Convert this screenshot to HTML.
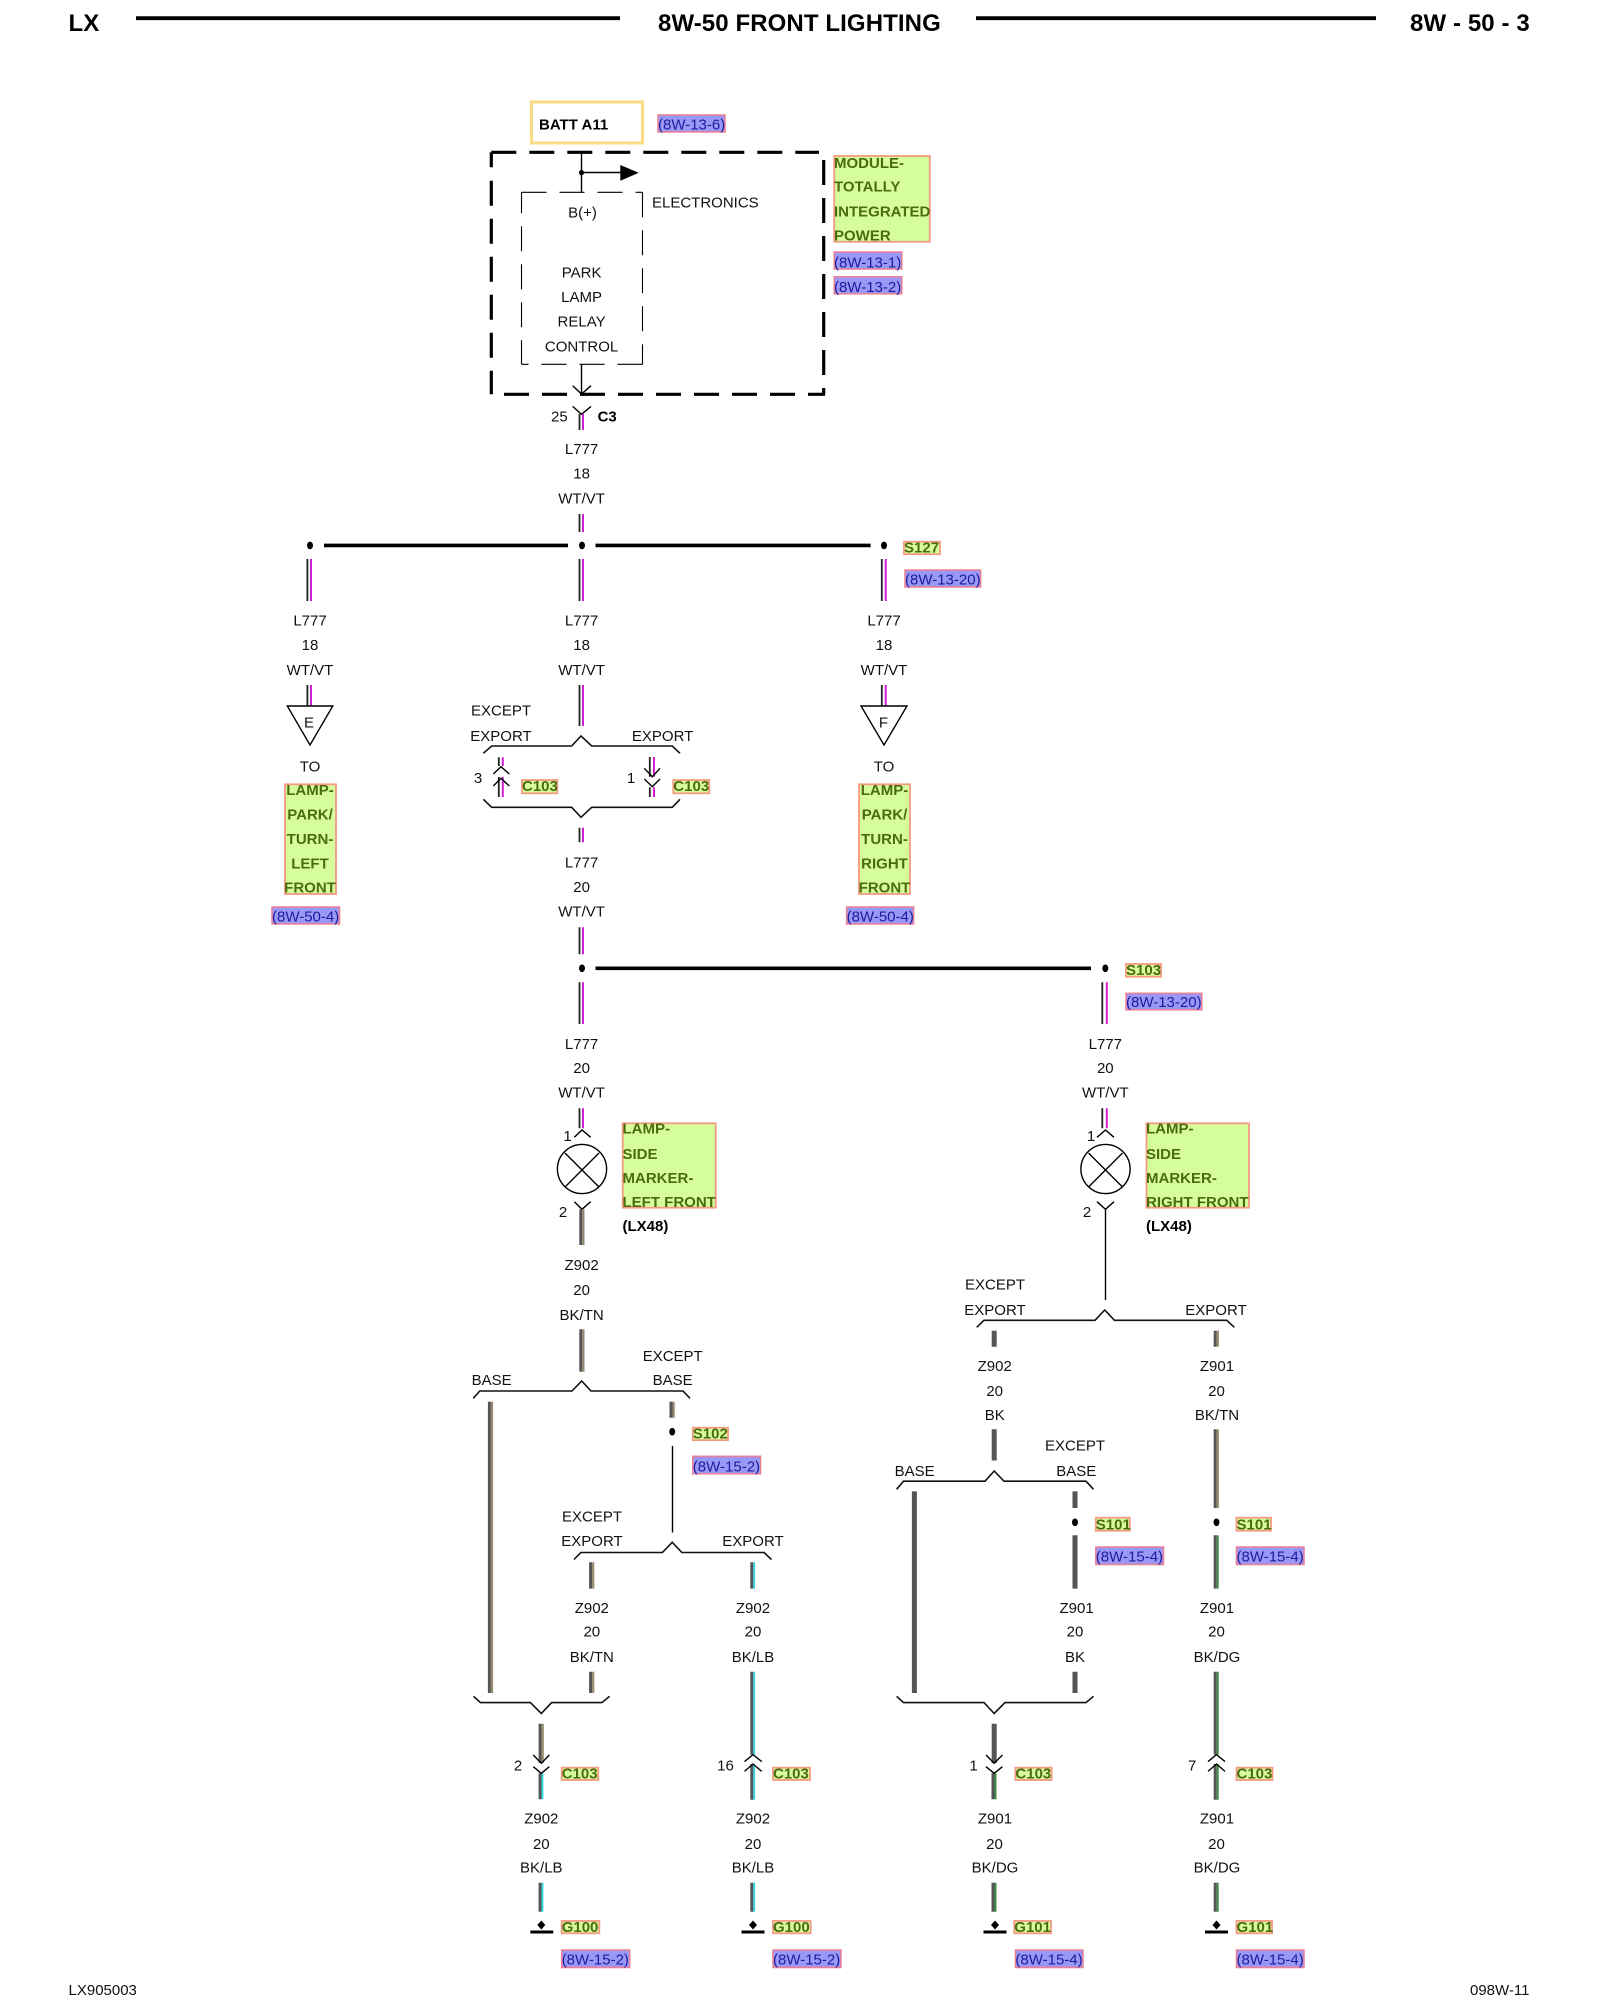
<!DOCTYPE html>
<html lang="en">
<head>
<meta charset="utf-8">
<title>8W-50 FRONT LIGHTING</title>
<style>
html,body{margin:0;padding:0;background:#fff;width:1600px;height:2000px;overflow:hidden}
svg{display:block}
text{font-family:"Liberation Sans",Arial,sans-serif;font-size:15px;fill:#111;transform:translateY(-.5px)}
.m{text-anchor:middle}
.b{font-weight:bold;fill:#000}
.g{font-weight:bold;fill:#4c6a10}
.r{fill:#1c1c9c}
.h{font-weight:bold;font-size:24px;fill:#000;letter-spacing:.1px}
.gb{fill:#d5fd9c;stroke:#f39a80;stroke-width:1.8}
.rb{fill:#9a98f6;stroke:#ee7f90;stroke-width:1.5}
.th{fill:none;stroke:#000;stroke-width:1.4}
.br{fill:none;stroke:#111;stroke-width:1.6}
</style>
</head>
<body>
<svg width="1600" height="2000" viewBox="0 0 1600 2000" xmlns="http://www.w3.org/2000/svg">
<rect width="1600" height="2000" fill="#fff"/>

<!-- header -->
<text x="68.5" y="31.5" class="h">LX</text>
<path d="M136 18.2H620M976 18.2H1376" stroke="#000" stroke-width="3.8" fill="none"/>
<text x="658" y="31.5" class="h">8W-50 FRONT LIGHTING</text>
<text x="1410" y="31.5" class="h">8W - 50 - 3</text>
<text x="68.5" y="1995.5">LX905003</text>
<text x="1470" y="1995.5">098W-11</text>

<!-- batt -->
<rect x="531.5" y="102" width="111" height="41" fill="#fff" stroke="#fbdc85" stroke-width="3"/>
<text x="539" y="130" class="b">BATT A11</text>
<rect x="658" y="115" width="67" height="17" class="rb"/>
<text x="658" y="130" class="r">(8W-13-6)</text>

<!-- module big dashed box -->
<g fill="none" stroke="#000" stroke-width="3.2">
<path d="M491.3 152.3H819" stroke-dasharray="25 13"/>
<path d="M491.3 152.3V394.3" stroke-dasharray="15 13.5 25 13 25 13 25 13 25 13 25 13 25"/>
<path d="M823.7 160V394.3" stroke-dasharray="25 13"/>
<path d="M504 394.3H825" stroke-dasharray="25 13"/>
</g>
<!-- inner dashed box -->
<g fill="none" stroke="#000" stroke-width="1.1">
<path d="M521.5 192.3H642.5" stroke-dasharray="25 13"/>
<path d="M521.5 192.3V364.3" stroke-dasharray="21 13 25 13 25 13 25 13 25"/>
<path d="M642.5 192.3V364.3" stroke-dasharray="25 13"/>
<path d="M642.5 364.3H521.5" stroke-dasharray="25 13"/>
</g>
<path d="M581.5 152V192.3M581.5 172.5H622M581.5 364V394M572.7 385.7L581.5 394L591 385.7" class="th"/>
<circle cx="581.5" cy="172.6" r="2.6" fill="#000"/>
<path d="M620.3 165L638.7 172.8L620.3 180.7Z" fill="#000"/>
<text x="582.5" y="218" class="m">B(+)</text>
<text x="652" y="208">ELECTRONICS</text>
<text x="581.6" y="278" class="m">PARK</text>
<text x="581.6" y="302.7" class="m">LAMP</text>
<text x="581.6" y="327.2" class="m">RELAY</text>
<text x="581.6" y="352" class="m">CONTROL</text>

<rect x="834.2" y="156" width="95.6" height="85.8" class="gb"/>
<text x="834" y="168.3" class="g">MODULE-</text>
<text x="834" y="192.2" class="g">TOTALLY</text>
<text x="834" y="217.2" class="g">INTEGRATED</text>
<text x="834" y="241" class="g">POWER</text>
<rect x="834.2" y="252" width="67.6" height="17" class="rb"/>
<text x="834" y="268" class="r">(8W-13-1)</text>
<rect x="834.2" y="276.8" width="67.6" height="17" class="rb"/>
<text x="834" y="292.5" class="r">(8W-13-2)</text>

<text x="551" y="422">25</text>
<path d="M572.7 406.4L581.5 414.3L591 406.4" class="th"/>
<text x="597.6" y="422" class="b">C3</text>

<!-- WT/VT wires -->
<g fill="none">
<path stroke="#222" stroke-width="1.8" d="M579.5 414V430M579.5 514V532M579.5 559V601M579.5 685V726M579.5 827.7V842.3M579.5 927.3V954.3M579.5 982.3V1024M579.5 1108.3V1128.3M498.8 757.3V766M498.8 777V797M649.8 757V776.7M649.8 787.3V797M307.4 559V601M307.4 685V706M881.8 559V601M881.8 685V706M1102.3 982.3V1024M1102.3 1108.3V1128.3"/>
<path stroke="#d41ed4" stroke-width="2" d="M583 414V430M583 514V532M583 559V601M583 685V726M583 827.7V842.3M583 927.3V954.3M583 982.3V1024M583 1108.3V1128.3M502.8 757.3V766M502.8 777V797M654 757V776.7M654 787.3V797M311 559V601M311 685V706M885.7 559V601M885.7 685V706M1106.8 982.3V1024M1106.8 1108.3V1128.3"/>
</g>

<text x="581.6" y="454.5" class="m">L777</text>
<text x="581.6" y="479" class="m">18</text>
<text x="581.6" y="504" class="m">WT/VT</text>

<!-- splice S127 -->
<path d="M324 545.4H568M595.5 545.4H870.6" stroke="#000" stroke-width="3.6" fill="none"/>
<ellipse cx="310" cy="545.4" rx="3" ry="3.8" fill="#000"/>
<ellipse cx="582" cy="545.4" rx="3" ry="3.8" fill="#000"/>
<ellipse cx="884" cy="545.4" rx="3" ry="3.8" fill="#000"/>
<rect x="904" y="541.7" width="36" height="12.5" class="gb"/>
<text x="904" y="553.2" class="g">S127</text>
<rect x="905" y="570" width="75.6" height="17" class="rb"/>
<text x="905" y="585" class="r">(8W-13-20)</text>

<!-- L777 labels -->
<g class="m">
<text x="310" y="626" class="m">L777</text><text x="310" y="650.5" class="m">18</text><text x="310" y="675.5" class="m">WT/VT</text>
<text x="581.6" y="626" class="m">L777</text><text x="581.6" y="650.5" class="m">18</text><text x="581.6" y="675.5" class="m">WT/VT</text>
<text x="884" y="626" class="m">L777</text><text x="884" y="650.5" class="m">18</text><text x="884" y="675.5" class="m">WT/VT</text>
</g>

<!-- triangles -->
<path d="M287.3 706H332.8L310 745Z" fill="none" stroke="#000" stroke-width="1.4"/>
<path d="M861 706H907L884 745Z" fill="none" stroke="#000" stroke-width="1.4"/>
<text x="309" y="728" class="m">E</text>
<text x="883.5" y="728" class="m">F</text>
<text x="310" y="772" class="m">TO</text>
<text x="884" y="772" class="m">TO</text>

<rect x="285" y="784.3" width="51" height="109.7" class="gb"/>
<text x="310" y="795.5" class="g m">LAMP-</text>
<text x="310" y="820" class="g m">PARK/</text>
<text x="310" y="844.5" class="g m">TURN-</text>
<text x="310" y="869" class="g m">LEFT</text>
<text x="310" y="893" class="g m">FRONT</text>
<rect x="859" y="784.3" width="51" height="109.7" class="gb"/>
<text x="884.5" y="795.5" class="g m">LAMP-</text>
<text x="884.5" y="820" class="g m">PARK/</text>
<text x="884.5" y="844.5" class="g m">TURN-</text>
<text x="884.5" y="869" class="g m">RIGHT</text>
<text x="884.5" y="893" class="g m">FRONT</text>
<rect x="272" y="907" width="67.5" height="17" class="rb"/>
<text x="272" y="922" class="r">(8W-50-4)</text>
<rect x="846.6" y="907" width="67" height="17" class="rb"/>
<text x="846.6" y="922" class="r">(8W-50-4)</text>

<!-- export brace 1 -->
<text x="501" y="716" class="m">EXCEPT</text>
<text x="501" y="741.5" class="m">EXPORT</text>
<text x="662.6" y="741.5" class="m">EXPORT</text>
<path class="br" d="M483.3 753.3L491.7 746H571.7L581 736L591.7 746H672.3L680 753.3"/>
<path class="br" d="M483.3 799.3L491.7 807.3H571.7L581 817.3L591.7 807.3H672.3L680 799.3"/>
<path class="th" d="M493.3 774L501 766.7L509.3 774M493.3 786L501 778.3L509.3 786M644.3 768.3L652.3 776.7L660 768.3M644.3 779L652.3 786.7L660 779"/>
<text x="478" y="783.5" class="m">3</text>
<text x="631" y="783.5" class="m">1</text>
<rect x="522" y="780" width="35.3" height="13.3" class="gb"/>
<text x="522" y="791.7" class="g">C103</text>
<rect x="673.3" y="780" width="36" height="13.3" class="gb"/>
<text x="673.3" y="791.7" class="g">C103</text>

<text x="581.6" y="868" class="m">L777</text>
<text x="581.6" y="892.5" class="m">20</text>
<text x="581.6" y="917" class="m">WT/VT</text>

<!-- splice S103 -->
<path d="M595.5 968.3H1091" stroke="#000" stroke-width="3.6" fill="none"/>
<ellipse cx="582" cy="968.3" rx="3" ry="3.8" fill="#000"/>
<ellipse cx="1105.3" cy="968.3" rx="3" ry="3.8" fill="#000"/>
<rect x="1126" y="964" width="35" height="12.7" class="gb"/>
<text x="1126" y="975.7" class="g">S103</text>
<rect x="1126" y="993.3" width="75.8" height="16.5" class="rb"/>
<text x="1126" y="1007.5" class="r">(8W-13-20)</text>

<text x="581.6" y="1049.5" class="m">L777</text><text x="581.6" y="1073.5" class="m">20</text><text x="581.6" y="1098" class="m">WT/VT</text>
<text x="1105.3" y="1049.5" class="m">L777</text><text x="1105.3" y="1073.5" class="m">20</text><text x="1105.3" y="1098" class="m">WT/VT</text>

<!-- lamps -->
<path class="th" d="M574.3 1137.3L582 1130L590.7 1137.3M574.3 1201.7L582 1209.3L590.7 1201.7"/>
<circle cx="582" cy="1169" r="24.6" fill="none" stroke="#000" stroke-width="1.4"/>
<path class="th" d="M565 1153L599 1187M599 1153L565 1187"/>
<text x="567.5" y="1141.7" class="m">1</text>
<text x="563" y="1217.7" class="m">2</text>
<path class="th" d="M1097 1137.3L1105.5 1130L1114 1137.3M1097 1201.7L1105.5 1209.3L1114 1201.7M1105.5 1209V1300"/>
<circle cx="1105.5" cy="1169" r="24.6" fill="none" stroke="#000" stroke-width="1.4"/>
<path class="th" d="M1088.5 1153L1122.5 1187M1122.5 1153L1088.5 1187"/>
<text x="1091" y="1141.7" class="m">1</text>
<text x="1087" y="1217.7" class="m">2</text>

<rect x="622.7" y="1123.3" width="93" height="84.4" class="gb"/>
<text x="622.5" y="1134" class="g">LAMP-</text>
<text x="622.5" y="1159.3" class="g">SIDE</text>
<text x="622.5" y="1183.3" class="g">MARKER-</text>
<text x="622.5" y="1207.7" class="g">LEFT FRONT</text>
<text x="622.5" y="1231.7" class="b">(LX48)</text>
<rect x="1146.5" y="1123.3" width="102.5" height="84.4" class="gb"/>
<text x="1146" y="1134" class="g">LAMP-</text>
<text x="1146" y="1159.3" class="g">SIDE</text>
<text x="1146" y="1183.3" class="g">MARKER-</text>
<text x="1146" y="1207.7" class="g">RIGHT FRONT</text>
<text x="1146" y="1231.7" class="b">(LX48)</text>

<!-- thick wires: BK/TN -->
<g fill="none">
<path stroke="#555" stroke-width="3" d="M580.8 1209.3V1245M580.8 1329.3V1371.7M489.4 1401.7V1693M671 1401.7V1417.7M590.6 1562.3V1588.6M590.6 1671.8V1693M540.1 1723.7V1763M1215.2 1330.7V1346.7M1215.2 1429.3V1508"/>
<path stroke="#958a70" stroke-width="2.2" d="M583.4 1209.3V1245M583.4 1329.3V1371.7M492 1401.7V1693M673.6 1401.7V1417.7M593.2 1562.3V1588.6M593.2 1671.8V1693M542.7 1723.7V1763M1217.8 1330.7V1346.7M1217.8 1429.3V1508"/>
<!-- BK/LB -->
<path stroke="#555" stroke-width="3" d="M540.1 1773.3V1799.3M540.1 1882.7V1911.7M751.8 1562.3V1588.6M751.8 1671.8V1754.6M751.8 1764V1799.8M751.8 1882.7V1911.7"/>
<path stroke="#2ad6e6" stroke-width="1.8" d="M542.5 1773.3V1799.3M542.5 1882.7V1911.7M754.2 1562.3V1588.6M754.2 1671.8V1754.6M754.2 1764V1799.8M754.2 1882.7V1911.7"/>
<!-- BK/DG -->
<path stroke="#555" stroke-width="3" d="M993 1773.3V1799.3M993 1882.7V1911.7M1215.2 1535.3V1588.6M1215.2 1671.8V1754.6M1215.2 1764V1799.8M1215.2 1882.7V1911.7"/>
<path stroke="#3a8f45" stroke-width="2" d="M995.5 1773.3V1799.3M995.5 1882.7V1911.7M1217.7 1535.3V1588.6M1217.7 1671.8V1754.6M1217.7 1764V1799.8M1217.7 1882.7V1911.7"/>
<!-- BK -->
<path stroke="#555" stroke-width="5" d="M994.2 1330.7V1346.7M994.2 1429.3V1460.5M914.4 1491.4V1693M1075 1491.4V1508M1075 1535.3V1588.6M1075 1671.8V1693M994.2 1723.7V1763"/>
</g>

<text x="581.6" y="1270.4" class="m">Z902</text><text x="581.6" y="1295.4" class="m">20</text><text x="581.6" y="1320.4" class="m">BK/TN</text>

<!-- base brace left -->
<text x="491.7" y="1385.4" class="m">BASE</text>
<text x="672.7" y="1361.4" class="m">EXCEPT</text>
<text x="672.7" y="1385.4" class="m">BASE</text>
<path class="br" d="M473.3 1398.3L479.8 1391H572L581.7 1381L591 1391H683L690 1398.3"/>
<ellipse cx="672.2" cy="1431.7" rx="3" ry="3.8" fill="#000"/>
<path class="th" d="M672.5 1446V1532.5"/>
<rect x="692.8" y="1427.7" width="35.2" height="12.5" class="gb"/>
<text x="692.8" y="1439.2" class="g">S102</text>
<rect x="692.8" y="1456.3" width="67.8" height="17.5" class="rb"/>
<text x="692.8" y="1471.8" class="r">(8W-15-2)</text>

<!-- export brace 2 -->
<text x="592" y="1522" class="m">EXCEPT</text>
<text x="592" y="1546.3" class="m">EXPORT</text>
<text x="753" y="1546.3" class="m">EXPORT</text>
<path class="br" d="M574 1559.5L580.9 1552.5H662.4L672.2 1542.3L681.9 1552.5H764L771.5 1559.5"/>
<text x="591.8" y="1613.3" class="m">Z902</text><text x="591.8" y="1637.2" class="m">20</text><text x="591.8" y="1662.4" class="m">BK/TN</text>
<text x="753" y="1613.3" class="m">Z902</text><text x="753" y="1637.2" class="m">20</text><text x="753" y="1662.4" class="m">BK/LB</text>

<!-- bottom brace left -->
<path class="br" d="M473.5 1696.3L480.4 1702.6H530.4L541.3 1713.5L551.6 1702.6H602L609.6 1696.3"/>
<path class="th" d="M533.3 1755L541.3 1763.3L549.3 1755M533.3 1766.7L541.3 1773.3L549.3 1766.7"/>
<text x="518" y="1771" class="m">2</text>
<rect x="561.7" y="1767.7" width="36.6" height="12.3" class="gb"/>
<text x="561.7" y="1779" class="g">C103</text>
<path class="th" d="M744.5 1761.6L753 1754.6L761.7 1761.6M744.5 1771.4L753 1764L761.7 1771.4"/>
<text x="725.5" y="1771" class="m">16</text>
<rect x="773" y="1767.7" width="37" height="12.3" class="gb"/>
<text x="773" y="1779" class="g">C103</text>

<!-- right side upper brace -->
<text x="995" y="1290" class="m">EXCEPT</text>
<text x="995" y="1315.4" class="m">EXPORT</text>
<text x="1216" y="1315.4" class="m">EXPORT</text>
<path class="br" d="M976.8 1327.3L983.9 1320.3H1095L1104.7 1310L1114.5 1320.3H1226.7L1234.3 1327.3"/>
<text x="994.7" y="1371.4" class="m">Z902</text><text x="994.7" y="1396.4" class="m">20</text><text x="994.7" y="1420.4" class="m">BK</text>
<text x="1217" y="1371.4" class="m">Z901</text><text x="1216.5" y="1396.4" class="m">20</text><text x="1217" y="1420.4" class="m">BK/TN</text>

<text x="1075" y="1451" class="m">EXCEPT</text>
<text x="914.7" y="1476.4" class="m">BASE</text>
<text x="1076.3" y="1476.4" class="m">BASE</text>
<path class="br" d="M896.6 1489.3L903.5 1481.2H985L994.2 1471L1004 1481.2H1086L1093.5 1489.3"/>

<ellipse cx="1075" cy="1522.3" rx="3" ry="3.8" fill="#000"/>
<ellipse cx="1216.5" cy="1522.3" rx="3" ry="3.8" fill="#000"/>
<rect x="1095.8" y="1517.7" width="33.9" height="13" class="gb"/>
<text x="1095.8" y="1530" class="g">S101</text>
<rect x="1236.5" y="1517.7" width="34.5" height="13" class="gb"/>
<text x="1236.5" y="1530" class="g">S101</text>
<rect x="1095.8" y="1547" width="67.7" height="17.5" class="rb"/>
<text x="1095.8" y="1562" class="r">(8W-15-4)</text>
<rect x="1236.5" y="1547" width="67.5" height="17.5" class="rb"/>
<text x="1236.5" y="1562" class="r">(8W-15-4)</text>

<text x="1076.6" y="1613.3" class="m">Z901</text><text x="1075" y="1637.2" class="m">20</text><text x="1075" y="1662.4" class="m">BK</text>
<text x="1217" y="1613.3" class="m">Z901</text><text x="1216.5" y="1637.2" class="m">20</text><text x="1217" y="1662.4" class="m">BK/DG</text>

<path class="br" d="M896.6 1696.3L903.5 1702.6H984L994.2 1713.5L1005 1702.6H1086L1093.5 1696.3"/>
<path class="th" d="M986 1755L994.2 1763.3L1002.4 1755M986 1766.7L994.2 1773.3L1002.4 1766.7"/>
<text x="973.5" y="1771" class="m">1</text>
<rect x="1015.4" y="1767.7" width="36.2" height="12.3" class="gb"/>
<text x="1015.4" y="1779" class="g">C103</text>
<path class="th" d="M1208 1761.6L1216.5 1754.6L1225 1761.6M1208 1771.4L1216.5 1764L1225 1771.4"/>
<text x="1192.2" y="1771" class="m">7</text>
<rect x="1236.5" y="1767.7" width="36" height="12.3" class="gb"/>
<text x="1236.5" y="1779" class="g">C103</text>

<!-- bottom labels -->
<text x="541.3" y="1824" class="m">Z902</text><text x="541.3" y="1849.4" class="m">20</text><text x="541.3" y="1873" class="m">BK/LB</text>
<text x="753" y="1824" class="m">Z902</text><text x="753" y="1849.4" class="m">20</text><text x="753" y="1873" class="m">BK/LB</text>
<text x="995" y="1824" class="m">Z901</text><text x="994.5" y="1849.4" class="m">20</text><text x="995" y="1873" class="m">BK/DG</text>
<text x="1217" y="1824" class="m">Z901</text><text x="1216.5" y="1849.4" class="m">20</text><text x="1217" y="1873" class="m">BK/DG</text>

<!-- grounds -->
<g fill="#000">
<path d="M541.3 1920.5L545.3 1925L541.3 1929.5L537.3 1925Z"/><rect x="530.3" y="1930.5" width="23" height="3"/>
<path d="M753 1920.5L757 1925L753 1929.5L749 1925Z"/><rect x="741.5" y="1930.5" width="23" height="3"/>
<path d="M995 1920.5L999 1925L995 1929.5L991 1925Z"/><rect x="983.5" y="1930.5" width="23" height="3"/>
<path d="M1216.5 1920.5L1220.5 1925L1216.5 1929.5L1212.5 1925Z"/><rect x="1205" y="1930.5" width="23" height="3"/>
</g>
<rect x="561.7" y="1921" width="37.6" height="12.3" class="gb"/><text x="561.7" y="1932.3" class="g">G100</text>
<rect x="773" y="1921" width="37.6" height="12.3" class="gb"/><text x="773" y="1932.3" class="g">G100</text>
<rect x="1014.3" y="1921" width="36.7" height="12.3" class="gb"/><text x="1014.3" y="1932.3" class="g">G101</text>
<rect x="1236.5" y="1921" width="35.5" height="12.3" class="gb"/><text x="1236.5" y="1932.3" class="g">G101</text>

<rect x="561.7" y="1950" width="68" height="17.5" class="rb"/><text x="561.7" y="1965" class="r">(8W-15-2)</text>
<rect x="773" y="1950" width="68" height="17.5" class="rb"/><text x="773" y="1965" class="r">(8W-15-2)</text>
<rect x="1015.4" y="1950" width="67.6" height="17.5" class="rb"/><text x="1015.4" y="1965" class="r">(8W-15-4)</text>
<rect x="1236.5" y="1950" width="67.5" height="17.5" class="rb"/><text x="1236.5" y="1965" class="r">(8W-15-4)</text>
</svg>
</body>
</html>
